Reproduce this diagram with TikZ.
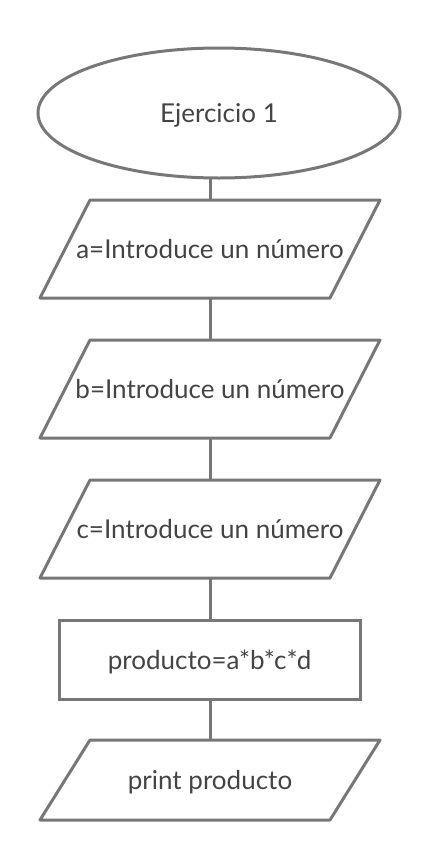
\documentclass[tikz,border=0pt]{standalone}
\usepackage{fontspec}
\setmainfont{Lato}
\usepackage{tikz}
\usetikzlibrary{shapes.geometric,calc}
\definecolor{LineGray}{HTML}{777777}
\definecolor{TextGray}{HTML}{444444}

\begin{document}
\begin{tikzpicture}[x=1pt,y=-1pt,
base/.style={text=TextGray,font=\fontsize{26}{30}\selectfont,inner sep=0pt,outer sep=0pt,text depth=0pt},
startnode/.style={base,draw=LineGray,line width=3pt,ellipse,minimum width=362pt,minimum height=130pt},
io/.style={base,rectangle,minimum width=290pt,minimum height=98pt},
proc/.style={base,draw=LineGray,line width=3pt,rectangle,minimum width=301pt,minimum height=79pt},
frame/.style={draw=LineGray,line width=3pt,line join=round},
link/.style={draw=LineGray,line width=3pt}
]
\useasboundingbox (0,0) rectangle (440,860);
\node[startnode] (start) at (219,113) {Ejercicio 1};
\node[io] (inA) at (210,249) {a=Introduce un número};
\node[io] (inB) at (210,389) {b=Introduce un número};
\node[io] (inC) at (210,529) {c=Introduce un número};
\node[proc] (prod) at (209.5,659.5) {producto=a*b*c*d};
\node[io,minimum height=80pt] (out) at (210,780) {print producto};
% slanted frames of the input/output boxes
\foreach \n in {inA,inB,inC,out}
  \draw[frame] ($(\n.north west)+(25,0)$) -- ($(\n.north east)+(25,0)$)
    -- ($(\n.south east)+(-25,0)$) -- ($(\n.south west)+(-25,0)$) -- cycle;
\draw[link] (inA.north) -- (inA.north |- start.south);
\draw[link] (inA.south) -- (inB.north);
\draw[link] (inB.south) -- (inC.north);
\draw[link] (inC.south) -- (inC.south |- prod.north);
\draw[link] (out.north) -- (out.north |- prod.south);
\end{tikzpicture}
\end{document}
